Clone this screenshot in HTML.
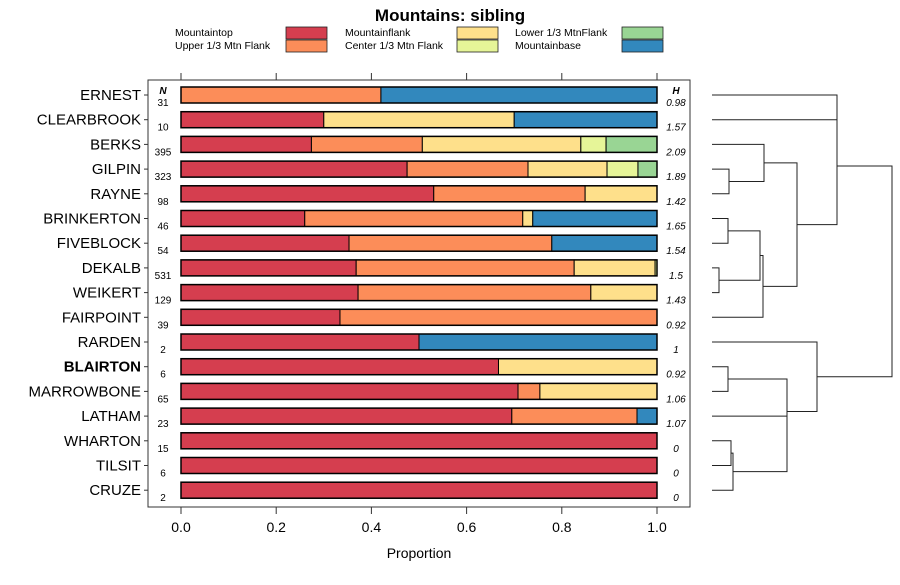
<!DOCTYPE html>
<html><head><meta charset="utf-8"><style>
body{margin:0;background:#fff;}
svg text{font-family:"Liberation Sans",sans-serif;}
</style></head><body>
<svg id="chart" width="900" height="580" xmlns="http://www.w3.org/2000/svg">
<text x="450" y="21" text-anchor="middle" font-size="17" font-weight="bold">Mountains: sibling</text>
<g id="legend" font-size="10.5"></g>
<rect x="148" y="80" width="542" height="427" fill="none" stroke="#333" stroke-width="1"/>
<g id="bars"></g>
<g id="axis" font-size="13"></g>
<text x="419" y="558" text-anchor="middle" font-size="14">Proportion</text>
<text x="163" y="94" text-anchor="middle" font-size="10" font-weight="bold" font-style="italic">N</text>
<text x="676" y="94" text-anchor="middle" font-size="10" font-weight="bold" font-style="italic">H</text>
<g id="dendro" stroke="#222" stroke-width="1" fill="none"></g>
</svg>
<script>
const categories=["ERNEST","CLEARBROOK","BERKS","GILPIN","RAYNE","BRINKERTON","FIVEBLOCK","DEKALB","WEIKERT","FAIRPOINT","RARDEN","BLAIRTON","MARROWBONE","LATHAM","WHARTON","TILSIT","CRUZE"];
const nValues=[31,10,395,323,98,46,54,531,129,39,2,6,65,23,15,6,2];
const hValues=["0.98","1.57","2.09","1.89","1.42","1.65","1.54","1.5","1.43","0.92","1","0.92","1.06","1.07","0","0","0"];
const seriesNames=["Mountaintop","Upper 1/3 Mtn Flank","Mountainflank","Center 1/3 Mtn Flank","Lower 1/3 MtnFlank","Mountainbase"];
const seriesColors=["#D53E4F","#FC8D59","#FEE08B","#E6F598","#99D594","#3288BD"];
const mountaintop=[0,0.30,0.274,0.475,0.531,0.26,0.353,0.368,0.372,0.334,0.5,0.667,0.708,0.695,1,1,1];
const upperFlank=[0.42,0,0.233,0.254,0.318,0.458,0.426,0.458,0.489,0.666,0,0,0.046,0.263,0,0,0];
const mountainflank=[0,0.40,0.333,0.166,0.151,0.021,0,0.17,0.139,0,0,0.333,0.246,0,0,0,0];
const centerFlank=[0,0,0.053,0.065,0,0,0,0.004,0,0,0,0,0,0,0,0,0];
const lowerFlank=[0,0,0.107,0.04,0,0,0,0,0,0,0,0,0,0,0,0,0];
const mountainbase=[0.58,0.30,0,0,0,0.261,0.221,0,0,0,0.5,0,0,0.042,0,0,0];
const xTicks=[0,0.2,0.4,0.6,0.8,1.0];
const xTickLabels=["0.0","0.2","0.4","0.6","0.8","1.0"];
const boldCategory="BLAIRTON";

const NS="http://www.w3.org/2000/svg";
function mk(tag,attrs,parent){const e=document.createElementNS(NS,tag);for(const k in attrs)e.setAttribute(k,attrs[k]);parent.appendChild(e);return e;}
const xScale=v=>181+v*476;
const yScale=i=>95+i*24.7;
const series=[mountaintop,upperFlank,mountainflank,centerFlank,lowerFlank,mountainbase];

const lg=document.getElementById('legend');
const legPos=[[175,36,286],[175,49,286],[345,36,457],[345,49,457],[515,36,622],[515,49,622]];
seriesNames.forEach((nm,s)=>{
  const [lx,ly,sx]=legPos[s];
  const t=mk('text',{x:lx,y:ly},lg);t.textContent=nm;
  
  
  const r=mk('rect',{x:sx,y:ly-9,width:41,height:12,fill:seriesColors[s],stroke:'#222','stroke-width':0.8},lg);
  
  
});

const bars=document.getElementById('bars');
const ax=document.getElementById('axis');
categories.forEach((c,i)=>{
  const y=yScale(i);
  let acc=0;
  series.forEach((arr,s)=>{
    const v=arr[i];
    if(v<=0)return;
    const r=mk('rect',{x:xScale(acc),y:y-8,width:v*476,height:16,fill:seriesColors[s],stroke:'#000','stroke-width':1},bars);
    
    
    acc+=v;
  });
  const o=mk('rect',{x:181,y:y-8,width:476,height:16,fill:'none',stroke:'#000','stroke-width':1.5},bars);
  
  
  const lab=mk('text',{x:141,y:y+5,'text-anchor':'end','font-size':15,'font-weight':c===boldCategory?'bold':'normal'},ax);
  lab.textContent=c;
  
  
  mk('line',{x1:144,x2:148,y1:y,y2:y,stroke:'#333'},ax);
  const n=mk('text',{x:163,y:y+11,'text-anchor':'middle','font-size':10},ax);
  n.textContent=nValues[i];
  
  
  const h=mk('text',{x:676,y:y+11,'text-anchor':'middle','font-size':10,'font-style':'italic'},ax);
  h.textContent=hValues[i];
  
  
});
xTicks.forEach((v,k)=>{
  const x=xScale(v);
  mk('line',{x1:x,x2:x,y1:507,y2:514,stroke:'#333'},ax);
  mk('line',{x1:x,x2:x,y1:73,y2:80,stroke:'#333'},ax);
  const t=mk('text',{x:x,y:532,'text-anchor':'middle','font-size':14},ax);
  t.textContent=xTickLabels[k];
  
  
});

const dg=document.getElementById('dendro');
const L=712;
function join(x,y1,x1,y2,x2){
  mk('path',{d:`M${x1} ${y1}H${x}V${y2}H${x2}`},dg);
  return (y1+y2)/2;
}
const Y=i=>yScale(i);
join(837,Y(0),L,Y(1),L);
const g1=join(729,Y(3),L,Y(4),L);
const g2=join(764,Y(2),L,g1,729);
const g3=join(728,Y(5),L,Y(6),L);
const g4=join(719,Y(7),L,Y(8),L);
const g5=join(760,g3,728,g4,719);
const g6=join(763,g5,760,Y(9),L);
const g7=join(797,g2,764,g6,763);
const topGroup=join(837,(Y(0)+Y(1))/2,837,g7,797);
const b1=join(728,Y(11),L,Y(12),L);
const b2=join(731,Y(14),L,Y(15),L);
const b3=join(733,b2,731,Y(16),L);
const b4=join(787,Y(13),L,b3,733);
const b5=join(787,b1,728,b4,787);
const b6=join(817,Y(10),L,b5,787);
join(892,topGroup,837,b6,817);
</script>
</body></html>
